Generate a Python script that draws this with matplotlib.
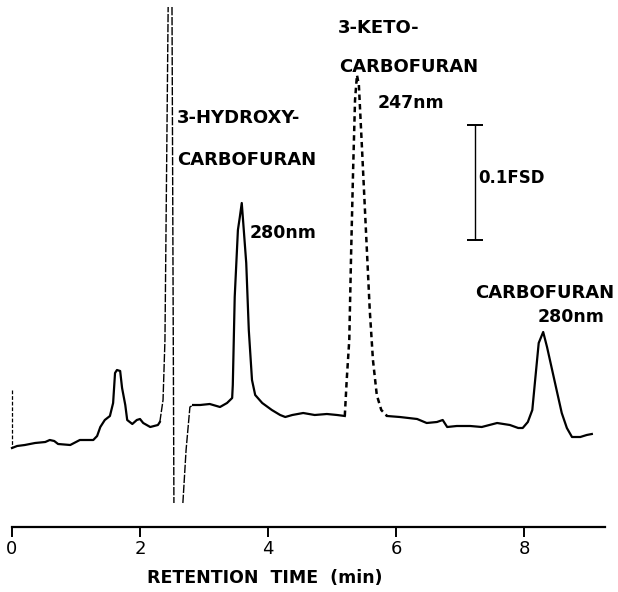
import numpy as np
import matplotlib
matplotlib.use("Agg")
import matplotlib.pyplot as plt

# retention time (min) and detector response (arbitrary units)
pen_start_t = [0.0, 0.0]
pen_start_y = [13.7, 7.9]

early_t = [0.00, 0.08, 0.20, 0.36, 0.52, 0.59, 0.66, 0.72, 0.91, 1.00, 1.06, 1.27,
           1.33, 1.38, 1.45, 1.53, 1.58, 1.61, 1.64, 1.69, 1.72, 1.77, 1.80, 1.88,
           1.95, 2.00, 2.05, 2.16, 2.28, 2.31]
early_y = [7.9, 8.1, 8.2, 8.4, 8.5, 8.7, 8.6, 8.3, 8.2, 8.5, 8.7, 8.7,
           9.1, 10.0, 10.7, 11.1, 12.4, 15.4, 15.7, 15.6, 13.9, 12.2, 10.7, 10.3,
           10.7, 10.8, 10.4, 10.0, 10.2, 10.5]

# solvent front, off scale at both ends (gaps = pen off the chart)
solvent_t = [2.31, 2.36, 2.39, 2.44, np.nan, 2.50, 2.52, 2.53, np.nan,
             2.67, 2.72, 2.78, 2.83]
solvent_y = [10.5, 12.7, 18.7, 52.0, np.nan, 52.0, 18.7, 2.4, np.nan,
             2.4, 7.7, 12.0, 12.2]

hydroxy_t = [2.83, 2.94, 3.09, 3.25, 3.36, 3.44, 3.45, 3.48, 3.53, 3.56, 3.59, 3.61,
             3.66, 3.70, 3.75, 3.80, 3.91, 4.06, 4.19, 4.27, 4.38, 4.55, 4.73, 4.92,
             5.08, 5.20]
hydroxy_y = [12.2, 12.2, 12.3, 12.0, 12.4, 12.9, 14.2, 23.0, 29.7, 31.0, 32.4, 30.7,
             26.4, 19.7, 14.7, 13.2, 12.4, 11.7, 11.2, 11.0, 11.2, 11.4, 11.2, 11.3,
             11.2, 11.1]

# 3-keto-carbofuran recorded at 247 nm (dashed)
keto_t = [5.20, 5.23, 5.27, 5.30, 5.33, 5.36, 5.39, 5.42, 5.47, 5.53, 5.59, 5.64,
          5.70, 5.77, 5.86]
keto_y = [11.1, 14.7, 18.7, 27.7, 35.7, 42.7, 45.2, 44.2, 37.7, 29.7, 21.7, 16.7,
          13.2, 11.7, 11.1]

late_t = [5.86, 6.06, 6.33, 6.48, 6.64, 6.73, 6.80, 6.95, 7.16, 7.34, 7.58, 7.78,
          7.91, 7.98, 8.06, 8.13, 8.17, 8.23, 8.30, 8.36, 8.44, 8.52, 8.59, 8.67,
          8.75, 8.88, 8.98, 9.06]
late_y = [11.1, 11.0, 10.8, 10.4, 10.5, 10.7, 10.0, 10.1, 10.1, 10.0, 10.4, 10.2,
          9.9, 9.9, 10.5, 11.7, 14.4, 18.4, 19.5, 18.0, 15.7, 13.4, 11.4, 9.9,
          9.0, 9.0, 9.2, 9.3]

ticks = [0, 2, 4, 6, 8]
axis_end = 9.27
scale_bar_t = 7.23
scale_bar_mid = 34.45
scale_bar_half = 5.75

fig = plt.figure(figsize=(6.18, 5.92), dpi=100)
ax = fig.add_axes([0, 0, 1, 1])
ax.set_xlim(-0.1875, 9.469)
ax.set_ylim(-6.5, 52.7)

k = 'black'
ax.plot(pen_start_t, pen_start_y, color=k, lw=0.9, ls=(0, (3, 1.5)))
ax.plot(early_t, early_y, color=k, lw=1.6, solid_joinstyle='round')
ax.plot(solvent_t, solvent_y, color=k, lw=1.0, ls=(0, (6, 1.2)))
ax.plot(hydroxy_t, hydroxy_y, color=k, lw=1.6, solid_joinstyle='round')
ax.plot(keto_t, keto_y, color=k, lw=1.8, ls=(0, (2.2, 1.6)))
ax.plot(late_t, late_y, color=k, lw=1.6, solid_joinstyle='round')

# 0.1 FSD scale bar
ax.errorbar([scale_bar_t], [scale_bar_mid], yerr=[scale_bar_half], fmt='none',
            ecolor=k, elinewidth=1.0, capsize=6, capthick=1.4)

# x axis drawn as a bare spine
for s in ['left', 'right', 'top']:
    ax.spines[s].set_visible(False)
ax.spines['bottom'].set_position(('data', 0))
ax.spines['bottom'].set_bounds(0, axis_end)
ax.spines['bottom'].set_linewidth(1.6)
ax.set_xticks(ticks)
ax.set_xticklabels([str(t) for t in ticks])
ax.tick_params(axis='x', direction='out', length=7, width=1.4, pad=2, labelsize=13)
ax.set_yticks([])

bold = dict(fontsize=13, fontweight='bold', va='center', ha='left')
ax.text(2.58, 40.9, '3-HYDROXY-', **bold)
ax.text(2.58, 36.7, 'CARBOFURAN', **bold)
ax.text(3.72, 29.4, '280nm', fontsize=12.5, fontweight='bold', va='center')
ax.text(5.09, 49.9, '3-KETO-', **bold)
ax.text(5.11, 46.0, 'CARBOFURAN', **bold)
ax.text(5.72, 42.4, '247nm', fontsize=12.5, fontweight='bold', va='center')
ax.text(7.28, 34.9, '0.1FSD', fontsize=12, fontweight='bold', va='center')
ax.text(7.23, 23.4, 'CARBOFURAN', **bold)
ax.text(8.22, 21.0, '280nm', fontsize=12.5, fontweight='bold', va='center')
ax.text(3.95, -5.1, 'RETENTION  TIME  (min)', fontsize=12.5, fontweight='bold',
        ha='center', va='center')

fig.savefig('out.png', dpi=100)
